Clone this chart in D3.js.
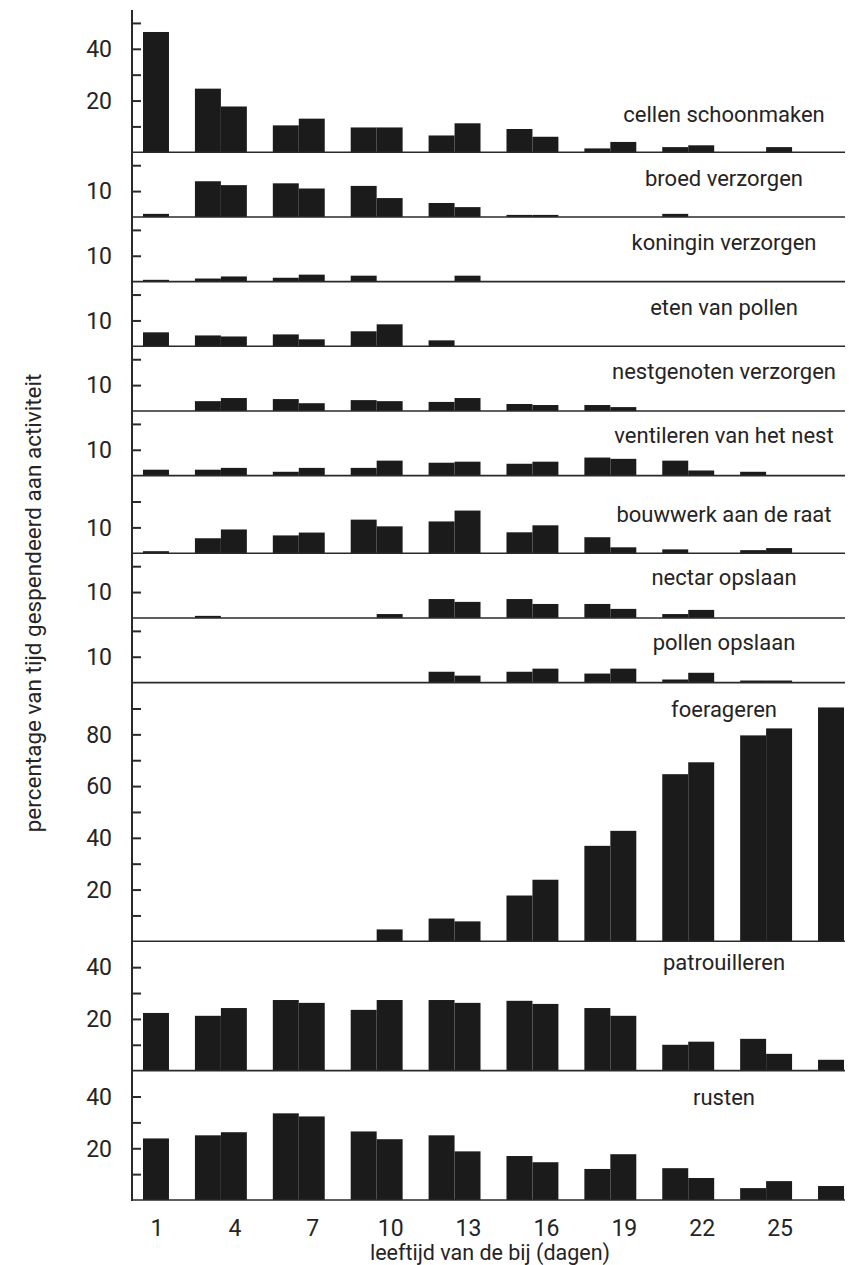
<!DOCTYPE html>
<html>
<head>
<meta charset="utf-8">
<script src="https://cdn.jsdelivr.net/npm/d3@7"></script>
<style>
  body { margin: 0; background: #fff; }
  text { font-family: Roboto, "Liberation Sans", sans-serif; fill: #262324; }
</style>
</head>
<body>
<div id="chart"></div>
<script>
// days on which a bar is drawn, and the labelled days on the x axis
var days = [1, 3, 4, 6, 7, 9, 10, 12, 13, 15, 16, 18, 19, 21, 22, 24, 25, 27];
var dayTicks = [1, 4, 7, 10, 13, 16, 19, 22, 25];

var activities = [
  "cellen schoonmaken",
  "broed verzorgen",
  "koningin verzorgen",
  "eten van pollen",
  "nestgenoten verzorgen",
  "ventileren van het nest",
  "bouwwerk aan de raat",
  "nectar opslaan",
  "pollen opslaan",
  "foerageren",
  "patrouilleren",
  "rusten",
];

// top of each panel's y scale (percent)
var panelMax = [55, 25, 25, 25, 25, 25, 30, 25, 25, 100, 50, 50];
var panelTicks = [
  [10, 20, 30, 40, 50],
  [10, 20], [10, 20], [10, 20], [10, 20], [10, 20], [10, 20], [10, 20], [10, 20],
  [10, 20, 30, 40, 50, 60, 70, 80, 90],
  [10, 20, 30, 40],
  [10, 20, 30, 40],
];
var panelTickLabels = [
  [20, 40],
  [10], [10], [10], [10], [10], [10], [10], [10],
  [20, 40, 60, 80],
  [20, 40],
  [20, 40],
];

var cellenSchoonmaken = [46.5, 24.6, 17.7, 10.4, 13, 9.6, 9.6, 6.5, 11.2, 9, 6, 1.5, 4, 2, 2.7, 0, 2, 0];
var broedVerzorgen = [1.2, 13.8, 12.3, 13, 11, 12, 7.3, 5.4, 3.8, 0.8, 0.8, 0, 0, 1.2, 0, 0, 0, 0];
var koninginVerzorgen = [0.7, 1.2, 2, 1.5, 2.7, 2.3, 0, 0, 2.3, 0, 0, 0, 0, 0, 0, 0, 0, 0];
var etenVanPollen = [5.4, 4.2, 3.8, 4.6, 2.7, 5.8, 8.5, 2.3, 0, 0, 0, 0, 0, 0, 0, 0, 0, 0];
var nestgenotenVerzorgen = [0, 3.8, 5, 4.6, 3, 4.2, 3.8, 3.5, 5, 2.7, 2.3, 2.3, 1.5, 0, 0, 0, 0, 0];
var ventileren = [2.3, 2.3, 3, 1.5, 3, 3, 5.8, 5, 5.4, 4.6, 5.4, 7, 6.5, 5.8, 2, 1.5, 0, 0];
var bouwwerk = [0.8, 5.8, 9.2, 6.9, 8, 13, 10.4, 12.3, 16.5, 8.1, 10.8, 6.2, 2.3, 1.5, 0, 1.2, 2, 0];
var nectarOpslaan = [0, 0.8, 0, 0, 0, 0, 1.5, 7.3, 6.2, 7.3, 5.4, 5.4, 3.5, 1.5, 3.1, 0, 0, 0];
var pollenOpslaan = [0, 0, 0, 0, 0, 0, 0, 4.2, 2.7, 4.2, 5.4, 3.5, 5.4, 1.2, 3.8, 0.8, 0.8, 0];
var foerageren = [0, 0, 0, 0, 0, 0, 4.6, 8.8, 7.7, 17.7, 23.8, 36.9, 42.7, 64.6, 69.2, 79.6, 82.3, 90.4];
var patrouilleren = [22.3, 21.2, 24.2, 27.3, 26.2, 23.5, 27.3, 27.3, 26.2, 27, 25.8, 24.2, 21.2, 10, 11.2, 12.3, 6.5, 4.2];
var rusten = [23.8, 25, 26.2, 33.5, 32.3, 26.5, 23.5, 25, 18.8, 17, 14.6, 12, 17.7, 12.3, 8.5, 4.6, 7.3, 5.4];

var series = [
  cellenSchoonmaken, broedVerzorgen, koninginVerzorgen, etenVanPollen,
  nestgenotenVerzorgen, ventileren, bouwwerk, nectarOpslaan, pollenOpslaan,
  foerageren, patrouilleren, rusten,
];

// layout: distance from the top of each panel to its label baseline
var labelDy = [112, 34, 33, 33, 33, 32, 46, 32, 32, 34, 29, 34];

var width = 852, height = 1265;
var axisX = 132, plotTop = 10, plotBottom = 1200, plotRight = 845;

var svg = d3
  .select("#chart")
  .append("svg")
  .attr("width", width)
  .attr("height", height);

var x = d3.scaleBand().domain(d3.range(1, 28)).range([143, 844]).padding(0);

var unit = (plotBottom - plotTop) / d3.sum(panelMax);

var panelTop = plotTop;
activities.forEach(function (name, i) {
  var panelBottom = panelTop + panelMax[i] * unit;
  var y = d3.scaleLinear().domain([0, panelMax[i]]).range([panelBottom, panelTop]);
  var g = svg.append("g");

  g.selectAll("rect")
    .data(days.map(function (d, j) { return { day: d, value: series[i][j] }; })
      .filter(function (d) { return d.value > 0; }))
    .join("rect")
    .attr("x", function (d) { return x(d.day); })
    .attr("width", x.bandwidth())
    .attr("y", function (d) { return y(d.value); })
    .attr("height", function (d) { return y(0) - y(d.value); })
    .style("fill", "#1b1b1b");

  // baseline of the panel
  g.append("line")
    .attr("x1", axisX)
    .attr("x2", plotRight)
    .attr("y1", y(0))
    .attr("y2", y(0))
    .style("stroke", "#2a2a2a")
    .style("stroke-width", 1.6);

  var yAxis = d3
    .axisRight(y)
    .tickValues(panelTicks[i])
    .tickSize(9)
    .tickFormat("");
  g.append("g")
    .attr("transform", `translate(${axisX}, 0)`)
    .call(yAxis)
    .call(function (a) { a.select(".domain").remove(); })
    .selectAll("line")
    .style("stroke", "#2a2a2a")
    .style("stroke-width", 2);

  g.selectAll(".ylab")
    .data(panelTickLabels[i])
    .join("text")
    .attr("class", "ylab")
    .attr("x", 112)
    .attr("y", function (d) { return y(d); })
    .attr("dy", "0.36em")
    .attr("text-anchor", "end")
    .style("font-size", "23px")
    .text(function (d) { return d; });

  g.append("text")
    .attr("x", 724)
    .attr("y", panelTop + labelDy[i])
    .attr("text-anchor", "middle")
    .style("font-size", "22px")
    .text(name);

  panelTop = panelBottom;
});

// y axis line
svg.append("line")
  .attr("x1", axisX)
  .attr("x2", axisX)
  .attr("y1", plotTop)
  .attr("y2", plotBottom + 1)
  .style("stroke", "#2a2a2a")
  .style("stroke-width", 2);

svg.selectAll(".xlab")
  .data(dayTicks)
  .join("text")
  .attr("class", "xlab")
  .attr("x", function (d) { return x(d) + x.bandwidth() / 2 + 1; })
  .attr("y", 1236)
  .attr("text-anchor", "middle")
  .style("font-size", "23px")
  .text(function (d) { return d; });

svg.append("text")
  .attr("x", 490)
  .attr("y", 1260)
  .attr("text-anchor", "middle")
  .style("font-size", "21.5px")
  .text("leeftijd van de bij (dagen)");

svg.append("text")
  .attr("transform", "translate(41, 603) rotate(-90)")
  .attr("text-anchor", "middle")
  .style("font-size", "22.5px")
  .text("percentage van tijd gespendeerd aan activiteit");
</script>
</body>
</html>
